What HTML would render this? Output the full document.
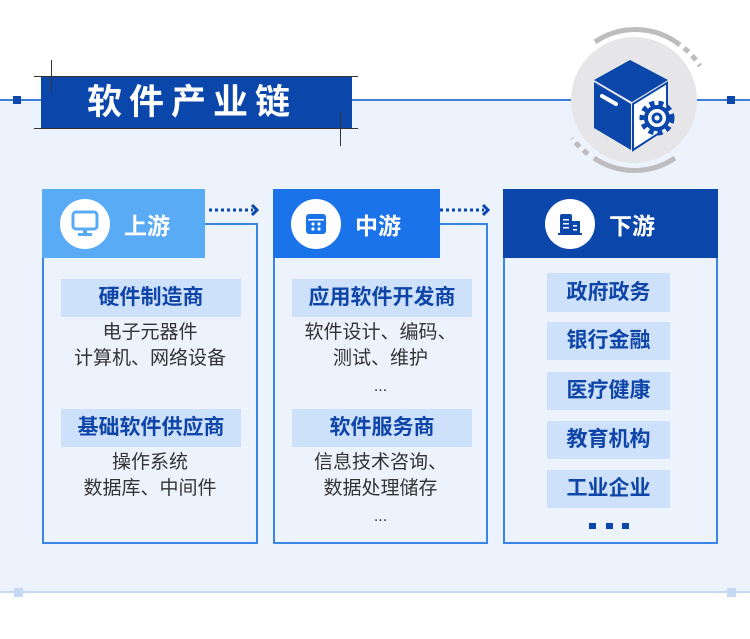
<!DOCTYPE html>
<html><head><meta charset="utf-8"><style>
*{margin:0;padding:0;box-sizing:border-box}
body{width:750px;height:639px;background:#fff;position:relative;overflow:hidden;font-family:"Liberation Sans","Noto Sans CJK SC",sans-serif}
.a{position:absolute}
.panel{left:0;top:100px;width:750px;height:492px;background:#edf3fd}
.hdr{position:absolute;top:189px;height:69px;color:#fff;font-size:23px;font-weight:bold;display:flex;align-items:center}
.ic{width:50px;height:50px;border-radius:50%;background:#fff;margin-left:18px;margin-right:14px;display:flex;align-items:center;justify-content:center}
.box{position:absolute;border:2px solid #3a86e6;border-top:none}
.tag{position:absolute;background:#cde1fa;color:#0f45a8;font-weight:bold;font-size:21px;text-align:center;line-height:38px}
.t{position:absolute;text-align:center;font-size:19px;color:#333;line-height:26px}
.dots{position:absolute;text-align:center;font-size:16px;color:#333}
</style></head><body>
<div class="a panel"></div>
<div class="a" style="left:0;top:99px;width:750px;height:2px;background:#3b7fd6"></div>
<div class="a" style="left:13px;top:96px;width:8px;height:8px;background:#0d49ad"></div>
<div class="a" style="left:727px;top:96px;width:8px;height:8px;background:#0d49ad"></div>
<div class="a" style="left:0;top:591px;width:750px;height:2px;background:#c5d9f5"></div>
<div class="a" style="left:14px;top:588px;width:9px;height:9px;background:#c5d9f5"></div>
<div class="a" style="left:727px;top:588px;width:9px;height:9px;background:#c5d9f5"></div>

<!-- title -->
<div class="a" style="left:34px;top:76px;width:324px;height:1px;background:#333"></div>
<div class="a" style="left:34px;top:128px;width:324px;height:1px;background:#333"></div>
<div class="a" style="left:41px;top:77px;width:311px;height:51px;background:#0b47ab;color:#fff;font-size:35px;font-weight:bold;letter-spacing:7px;line-height:51px;padding-left:46px;white-space:nowrap">软件产业链</div>
<div class="a" style="left:51px;top:60px;width:1px;height:32px;background:#333"></div>
<div class="a" style="left:340px;top:112px;width:1px;height:34px;background:#333"></div>

<!-- circle icon -->
<svg class="a" style="left:555px;top:20px" width="160" height="160" viewBox="555 20 160 160">
<circle cx="634" cy="100" r="63" fill="#e6e6e8"/>
<path d="M595 42 A72 72 0 0 1 680 45" stroke="#bdbdc0" stroke-width="5" fill="none"/>
<path d="M684 48 A72 72 0 0 1 700 66" stroke="#bdbdc0" stroke-width="5" fill="none" stroke-dasharray="6 5"/>
<path d="M675 158 A72 72 0 0 1 594 158" stroke="#bdbdc0" stroke-width="5" fill="none"/>
<path d="M588 154 A72 72 0 0 1 572 138" stroke="#bdbdc0" stroke-width="5" fill="none" stroke-dasharray="6 5"/>
<polygon points="630,60 668,80 632,102 594,80" fill="#0b47ab"/>
<polygon points="594,82 631,104 631,150 594,128" fill="#0b47ab"/>
<polygon points="633,104 667,83 667,128 633,150" fill="#fff" stroke="#0b47ab" stroke-width="2"/>
<line x1="602" y1="96" x2="616" y2="104" stroke="#fff" stroke-width="4" stroke-linecap="round"/>
<circle cx="657" cy="118" r="15" fill="#fff" stroke="#0b47ab" stroke-width="5" stroke-dasharray="5 4"/>
<circle cx="657" cy="118" r="11" fill="#fff" stroke="#0b47ab" stroke-width="4"/>
<circle cx="657" cy="118" r="4" fill="#fff" stroke="#0b47ab" stroke-width="3"/>
</svg>

<!-- arrows -->
<svg class="a" style="left:205px;top:200px" width="300" height="20">
<line x1="4" y1="10" x2="48" y2="10" stroke="#0b47ab" stroke-width="3" stroke-dasharray="3 3"/>
<polyline points="47,5 52,10 47,15" fill="none" stroke="#0b47ab" stroke-width="3"/>
<line x1="235" y1="10" x2="279" y2="10" stroke="#0b47ab" stroke-width="3" stroke-dasharray="3 3"/>
<polyline points="278,5 283,10 278,15" fill="none" stroke="#0b47ab" stroke-width="3"/>
</svg>

<!-- upstream -->
<div class="box" style="left:42px;top:240px;width:216px;height:304px"></div>
<div class="a" style="left:205px;top:223px;width:53px;height:19px;border-top:2px solid #3a86e6;border-right:2px solid #3a86e6"></div>
<div class="hdr" style="left:42px;width:163px;background:#5aabf5">
<div class="ic"><svg width="30" height="28"><rect x="3" y="2" width="24" height="17" rx="3" fill="none" stroke="#5aabf5" stroke-width="3"/><rect x="13" y="19" width="4" height="4" fill="#5aabf5"/><rect x="8" y="23" width="14" height="3" fill="#5aabf5"/></svg></div>上游</div>
<div class="tag" style="left:61px;top:279px;width:180px">硬件制造商</div>
<div class="t" style="left:42px;top:320px;width:216px">电子元器件<br>计算机、网络设备</div>
<div class="tag" style="left:61px;top:409px;width:180px">基础软件供应商</div>
<div class="t" style="left:42px;top:450px;width:216px">操作系统<br>数据库、中间件</div>

<!-- midstream -->
<div class="box" style="left:273px;top:240px;width:215px;height:304px"></div>
<div class="a" style="left:440px;top:223px;width:48px;height:19px;border-top:2px solid #3a86e6;border-right:2px solid #3a86e6"></div>
<div class="hdr" style="left:273px;width:167px;background:#1a73e8">
<div class="ic"><svg width="28" height="28"><rect x="4" y="4" width="20" height="20" rx="3" fill="#1a73e8"/><rect x="6" y="9" width="16" height="1.5" fill="#fff"/><circle cx="11" cy="14" r="1.6" fill="#fff"/><circle cx="17" cy="14" r="1.6" fill="#fff"/><circle cx="11" cy="19" r="1.6" fill="#fff"/><circle cx="17" cy="19" r="1.6" fill="#fff"/></svg></div>中游</div>
<div class="tag" style="left:292px;top:279px;width:180px">应用软件开发商</div>
<div class="t" style="left:273px;top:320px;width:215px">软件设计、编码、<br>测试、维护</div>
<div class="dots" style="left:273px;top:378px;width:215px">...</div>
<div class="tag" style="left:292px;top:409px;width:180px">软件服务商</div>
<div class="t" style="left:273px;top:450px;width:215px">信息技术咨询、<br>数据处理储存</div>
<div class="dots" style="left:273px;top:508px;width:215px">...</div>

<!-- downstream -->
<div class="box" style="left:503px;top:240px;width:215px;height:304px"></div>
<div class="hdr" style="left:503px;width:215px;background:#0b47ab;padding-left:24px">
<div class="ic"><svg width="28" height="28"><rect x="4" y="4" width="12" height="20" rx="2" fill="#0b47ab"/><rect x="15" y="11" width="9" height="13" fill="#0b47ab"/><rect x="2" y="23" width="24" height="2" fill="#0b47ab"/><rect x="7" y="9" width="6" height="1.5" fill="#fff"/><rect x="7" y="13" width="6" height="1.5" fill="#fff"/><rect x="7" y="17" width="6" height="1.5" fill="#fff"/><rect x="17" y="15" width="4" height="1.5" fill="#fff"/><rect x="17" y="19" width="4" height="1.5" fill="#fff"/></svg></div>下游</div>
<div class="tag" style="left:547px;top:273px;width:123px;line-height:39px">政府政务</div>
<div class="tag" style="left:547px;top:322px;width:123px;line-height:38px">银行金融</div>
<div class="tag" style="left:547px;top:372px;width:123px;line-height:38px">医疗健康</div>
<div class="tag" style="left:547px;top:421px;width:123px;line-height:38px">教育机构</div>
<div class="tag" style="left:547px;top:470px;width:123px;line-height:38px">工业企业</div>
<div class="a" style="left:589px;top:523px;width:7px;height:6px;background:#0b47ab"></div>
<div class="a" style="left:606px;top:523px;width:7px;height:6px;background:#0b47ab"></div>
<div class="a" style="left:622px;top:523px;width:7px;height:6px;background:#0b47ab"></div>
</body></html>
